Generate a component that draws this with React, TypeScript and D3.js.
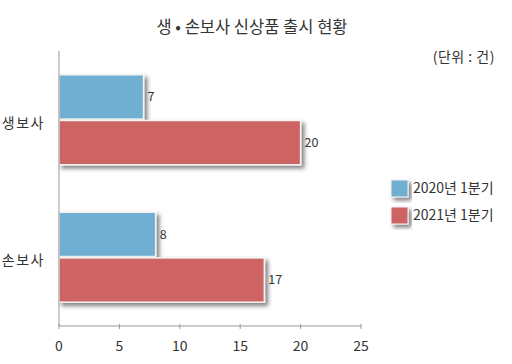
import React from 'react';
import * as d3 from 'd3';

const categories = ['생보사', '손보사'];
const seriesNames = ['2020년 1분기', '2021년 1분기'];
const values2020 = [7, 8];
const values2021 = [20, 17];
const xTicks = [0, 5, 10, 15, 20, 25];
const colors = ['#6fafd1', '#cd6462'];

const W = 512;
const H = 364;
const FONT = '"Noto Sans CJK KR", "Noto Sans", sans-serif';

export default function App() {
  const margin = { top: 51, left: 59, right: 151, bottom: 38 };
  const x = d3.scaleLinear().domain([0, 25]).range([margin.left, W - margin.right]);
  const y = d3
    .scaleBand<string>()
    .domain(categories)
    .range([margin.top, H - margin.bottom])
    .paddingInner(0.345)
    .paddingOuter(0.173);
  const inner = d3
    .scaleBand<string>()
    .domain(seriesNames)
    .range([0, y.bandwidth()])
    .paddingInner(0.03);

  const series = [values2020, values2021];
  const axisY = H - margin.bottom;

  return (
    <svg width={W} height={H} style={{ position: 'absolute', left: 0, top: 0, fontFamily: FONT }}>
      <defs>
        <filter id="shadow" x="-10%" y="-10%" width="130%" height="140%">
          <feDropShadow dx="3" dy="3" stdDeviation="2" floodColor="#000" floodOpacity="0.5" />
        </filter>
      </defs>
      <rect width={W} height={H} fill="#fff" />

      <text x={252} y={33} textAnchor="middle" fontSize={16.5} fill="#333">
        생 • 손보사 신상품 출시 현황
      </text>
      <text x={495} y={62} textAnchor="end" fontSize={14} letterSpacing={0.5} fill="#333">
        (단위 : 건)
      </text>

      {/* bars */}
      {categories.map((c, ci) =>
        seriesNames.map((s, si) => {
          const v = series[si][ci];
          const by = (y(c) ?? 0) + (inner(s) ?? 0);
          const bh = inner.bandwidth();
          return (
            <g key={c + s}>
              <rect
                x={x(0)}
                y={by}
                width={x(v) - x(0)}
                height={bh}
                fill={colors[si]}
                stroke="#f4f4f4"
                strokeWidth={1.5}
                filter="url(#shadow)"
              />
              <text x={x(v) + 4} y={by + bh / 2} dy="0.35em" fontSize={12.5} fill="#333">
                {v}
              </text>
            </g>
          );
        })
      )}

      {/* category labels */}
      {categories.map((c) => (
        <text
          key={c}
          x={45}
          y={(y(c) ?? 0) + y.bandwidth() / 2 + 3}
          dy="0.35em"
          textAnchor="end"
          fontSize={14}
          letterSpacing={1.5}
          fill="#333"
        >
          {c}
        </text>
      ))}

      {/* axes */}
      <line x1={x(0)} x2={x(0)} y1={margin.top} y2={axisY} stroke="#999" />
      <line x1={x(0)} x2={x(25)} y1={axisY} y2={axisY} stroke="#999" />
      {xTicks.map((t) => (
        <g key={t}>
          <line x1={x(t)} x2={x(t)} y1={axisY - 2} y2={axisY + 3} stroke="#999" />
          <text x={x(t)} y={axisY + 20} dy="0.35em" textAnchor="middle" fontSize={14} fill="#333">
            {t}
          </text>
        </g>
      ))}

      {/* legend */}
      {seriesNames.map((s, i) => (
        <g key={s} transform={`translate(391, ${180 + i * 27})`}>
          <rect width={17} height={17} fill={colors[i]} stroke="#f4f4f4" strokeWidth={1} filter="url(#shadow)" />
          <text x={22} y={8.5} dy="0.35em" fontSize={14} fill="#333">
            {s}
          </text>
        </g>
      ))}
    </svg>
  );
}
